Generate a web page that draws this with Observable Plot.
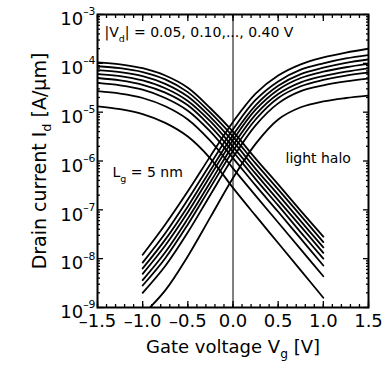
<!DOCTYPE html>
<html><head><meta charset="utf-8">
<script src="https://cdn.jsdelivr.net/npm/d3@7"></script>
<script src="https://cdn.jsdelivr.net/npm/@observablehq/plot@0.6"></script>
<style>body{margin:0;background:#fff}</style>
</head><body><div id="chart"></div>
<script>
// Gate voltage grids (V)
const vgP = [-1.5, -1.25, -1.0, -0.75, -0.5, -0.25, 0, 0.25, 0.5, 0.75, 1.0];
const vgN = [-1.0, -0.75, -0.5, -0.25, 0, 0.25, 0.5, 0.75, 1.0, 1.25, 1.5];
// |Vd| values (V)
const vd = [0.05, 0.10, 0.15, 0.20, 0.25, 0.30, 0.35, 0.40];

// p-type curves: log10(Id [A/um]), per |Vd|
const p05 = [-4.88, -4.94, -5.04, -5.22, -5.50, -5.95, -6.55, -7.12, -7.68, -8.24, -8.80];
const p10 = [-4.57, -4.62, -4.71, -4.88, -5.15, -5.59, -6.15, -6.71, -7.26, -7.81, -8.36];
const p15 = [-4.40, -4.45, -4.54, -4.71, -4.97, -5.40, -5.94, -6.50, -7.04, -7.59, -8.14];
const p20 = [-4.30, -4.35, -4.44, -4.60, -4.86, -5.29, -5.81, -6.37, -6.91, -7.46, -8.00];
const p25 = [-4.22, -4.26, -4.35, -4.51, -4.77, -5.19, -5.71, -6.26, -6.80, -7.34, -7.88];
const p30 = [-4.14, -4.18, -4.26, -4.42, -4.68, -5.10, -5.60, -6.16, -6.69, -7.23, -7.77];
const p35 = [-4.06, -4.10, -4.18, -4.33, -4.59, -5.01, -5.50, -6.05, -6.58, -7.12, -7.66];
const p40 = [-3.98, -4.02, -4.10, -4.25, -4.50, -4.92, -5.40, -5.95, -6.48, -7.02, -7.55];

// n-type curves: log10(Id [A/um]) per |Vd|
const n05 = [-9.15, -8.65, -7.95, -7.15, -6.35, -5.65, -5.15, -4.90, -4.78, -4.71, -4.66];
const n10 = [-8.70, -8.15, -7.46, -6.69, -5.93, -5.27, -4.82, -4.57, -4.45, -4.37, -4.31];
const n15 = [-8.55, -7.99, -7.30, -6.54, -5.79, -5.15, -4.71, -4.47, -4.34, -4.25, -4.19];
const n20 = [-8.44, -7.87, -7.18, -6.43, -5.68, -5.05, -4.63, -4.39, -4.26, -4.17, -4.10];
const n25 = [-8.31, -7.73, -7.05, -6.30, -5.57, -4.95, -4.54, -4.30, -4.17, -4.08, -4.01];
const n30 = [-8.20, -7.61, -6.93, -6.19, -5.47, -4.86, -4.46, -4.22, -4.09, -3.99, -3.92];
const n35 = [-8.08, -7.48, -6.79, -6.06, -5.35, -4.75, -4.37, -4.13, -4.00, -3.90, -3.83];
const n40 = [-7.92, -7.30, -6.62, -5.90, -5.20, -4.62, -4.25, -4.02, -3.88, -3.78, -3.70];

// Tick values
const xTicks = [-1.5, -1.0, -0.5, 0, 0.5, 1.0, 1.5];
const xMinorTicks = d3.range(-15, 16).map(i => i / 10);
const yTicks = [1e-9, 1e-8, 1e-7, 1e-6, 1e-5, 1e-4, 1e-3];
const yMinorTicks = d3.range(-9, -3).flatMap(e => d3.range(2, 10).map(m => m * 10 ** e));

// Texts
const vdNote = "|V_{d}| = 0.05, 0.10,..., 0.40 V";
const lgNote = "L_{g} = 5 nm";
const haloNote = "light halo";
const xTitle = "Gate voltage V_{g} [V]";
const yTitle = "Drain current I_{d} [A/μm]";

const pSeries = [p05, p10, p15, p20, p25, p30, p35, p40];
const nSeries = [n05, n10, n15, n20, n25, n30, n35, n40];
const rows = [];
vd.forEach((v, i) => {
  pSeries[i].forEach((e, j) => rows.push({curve: "p" + v, vg: vgP[j], id: 10 ** e}));
  nSeries[i].forEach((e, j) => rows.push({curve: "n" + v, vg: vgN[j], id: 10 ** e}));
});

const fmtX = d => (d < 0 ? "–" : "") + Math.abs(d).toFixed(1);
const fmtY = d => `10^{–${Math.round(-Math.log10(d))}}`;
const blank = () => "";

const plot = Plot.plot({
  width: 389, height: 370,
  marginLeft: 97, marginRight: 21, marginTop: 14, marginBottom: 63,
  style: {fontFamily: "DejaVu Sans", background: "white", color: "black", overflow: "visible"},
  x: {domain: [-1.5, 1.5], label: null},
  y: {type: "log", domain: [1e-9, 1e-3], label: null},
  marks: [
    Plot.ruleX([0], {stroke: "black", strokeWidth: 1}),
    Plot.line(rows, {x: "vg", y: "id", z: "curve", curve: "catmull-rom", stroke: "black", strokeWidth: 1.8, clip: true}),
    Plot.frame({stroke: "black", strokeWidth: 2}),
    // inward ticks
    Plot.axisX({anchor: "bottom", ticks: xMinorTicks, tickSize: -3, tickFormat: blank, strokeWidth: 1.3, label: null}),
    Plot.axisX({anchor: "bottom", ticks: xTicks, tickSize: -6, tickFormat: blank, strokeWidth: 1.3, label: null}),
    Plot.axisX({anchor: "top", ticks: xMinorTicks, tickSize: -3, tickFormat: blank, strokeWidth: 1.3, label: null}),
    Plot.axisX({anchor: "top", ticks: xTicks, tickSize: -6, tickFormat: blank, strokeWidth: 1.3, label: null}),
    Plot.axisY({anchor: "left", ticks: yMinorTicks, tickSize: -3, tickFormat: blank, strokeWidth: 1.3, label: null}),
    Plot.axisY({anchor: "left", ticks: yTicks, tickSize: -6, tickFormat: blank, strokeWidth: 1.3, label: null}),
    Plot.axisY({anchor: "right", ticks: yMinorTicks, tickSize: -3, tickFormat: blank, strokeWidth: 1.3, label: null}),
    Plot.axisY({anchor: "right", ticks: yTicks, tickSize: -6, tickFormat: blank, strokeWidth: 1.3, label: null}),
    // tick labels
    Plot.axisX({anchor: "bottom", ticks: xTicks, tickSize: 0, tickPadding: 7, tickFormat: fmtX, fontSize: 18, label: null}),
    Plot.axisY({anchor: "left", ticks: yTicks, tickSize: 0, tickPadding: 2, tickFormat: fmtY, fontSize: 18, dy: 5, label: null}),
    // annotations
    Plot.text([vdNote], {text: d => d, frameAnchor: "top-left", dx: 7, dy: 13, textAnchor: "start", lineAnchor: "top", fontSize: 14}),
    Plot.text([lgNote], {text: d => d, frameAnchor: "top-left", dx: 15, dy: 153, textAnchor: "start", lineAnchor: "top", fontSize: 14}),
    Plot.text([haloNote], {text: d => d, frameAnchor: "top-left", dx: 188, dy: 139, textAnchor: "start", lineAnchor: "top", fontSize: 14}),
    Plot.text([xTitle], {text: d => d, frameAnchor: "bottom", dy: 45, textAnchor: "middle", fontSize: 18}),
    Plot.text([yTitle], {text: d => d, frameAnchor: "left", dx: -58, rotate: -90, textAnchor: "middle", fontSize: 19})
  ]
});
document.getElementById("chart").appendChild(plot);

// sub/superscripts as tspans
const NS = "http://www.w3.org/2000/svg";
plot.querySelectorAll("text").forEach(t => {
  const s = t.textContent;
  if (!/[_^]\{/.test(s)) return;
  const fs = parseFloat(getComputedStyle(t).fontSize) || 14;
  const parts = s.split(/([_^]\{[^}]*\})/);
  t.textContent = "";
  let shift = 0;
  for (const p of parts) {
    if (!p) continue;
    const m = p.match(/^([_^])\{([^}]*)\}$/);
    const ts = document.createElementNS(NS, "tspan");
    let target = 0;
    if (m) {
      const sup = m[1] === "^";
      target = sup ? -0.55 * fs : 0.3 * fs;
      ts.setAttribute("font-size", (sup ? 0.6 : 0.68) * fs);
      ts.textContent = m[2];
    } else ts.textContent = p;
    ts.setAttribute("dy", target - shift);
    shift = target;
    t.appendChild(ts);
  }
});
</script></body></html>
